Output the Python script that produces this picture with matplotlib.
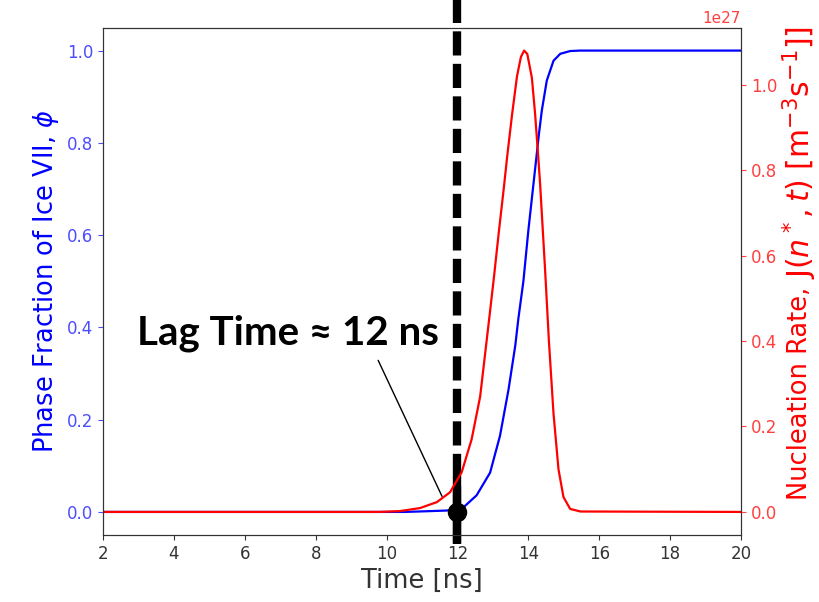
import numpy as np
import matplotlib
matplotlib.use('Agg')
import matplotlib.pyplot as plt


# Phase fraction of ice VII
time_phi = [2.0, 10.5, 10.94, 11.7, 12.17, 12.54, 12.92, 13.2, 13.44, 13.63, 13.72,
            13.86, 14.0, 14.1, 14.2, 14.3, 14.38, 14.52, 14.71, 14.9, 15.18,
            15.46, 20.0]
phi = [0.0, 0.0, 0.001, 0.003, 0.010, 0.036, 0.085, 0.165, 0.265, 0.360, 0.420,
       0.50, 0.61, 0.68, 0.75, 0.82, 0.87, 0.935, 0.978, 0.993, 0.999,
       1.0, 1.0]

# Nucleation rate J(n*, t) in units of 1e27 m^-3 s^-1
time_J = [2.0, 9.8, 10.38, 10.94, 11.42, 11.79, 12.12, 12.40, 12.64, 12.78,
          12.92, 13.03, 13.16, 13.31, 13.40, 13.54, 13.68, 13.79, 13.88, 13.97,
          14.10, 14.19, 14.26, 14.33, 14.47, 14.58, 14.71, 14.85, 14.99, 15.18,
          15.47, 20.0]
J = [0.0, 0.0, 0.002, 0.009, 0.023, 0.046, 0.093, 0.170, 0.270, 0.370,
     0.470, 0.550, 0.650, 0.760, 0.830, 0.930, 1.020, 1.065, 1.080, 1.072,
     1.016, 0.932, 0.853, 0.770, 0.570, 0.400, 0.230, 0.100, 0.035, 0.007,
     0.001, 0.0]

lag_time = 12.0

fig = plt.figure(figsize=(8.2, 6.02), dpi=100)
ax1 = fig.add_axes([0.1256, 0.1113, 0.7781, 0.843])
ax2 = ax1.twinx()

ax1.plot(time_phi, phi, color='b', lw=1.6)
ax2.plot(time_J, np.array(J) * 1e27, color='r', lw=1.6)

ax1.set_xlim(2, 20)
ax1.set_ylim(-0.05, 1.05)
ax2.set_ylim(-0.054e27, 1.134e27)
ax1.set_xticks(np.arange(2, 21, 2))

ax1.tick_params(axis='x', colors='#333333', labelsize=12)
ax1.tick_params(axis='y', colors='#4d4dff', labelsize=12)
ax2.tick_params(axis='y', colors='#ff4040', labelsize=12)
ax2.yaxis.get_offset_text().set_color('#ff4040')
ax2.yaxis.get_offset_text().set_fontsize(11)
for sp in ax1.spines.values():
    sp.set_color('#333333')
for sp in ax2.spines.values():
    sp.set_color('#333333')

ax1.set_xlabel('Time [ns]', fontsize=18.5, color='#333333')
ax1.set_ylabel(r'Phase Fraction of Ice VII, $\phi$', fontsize=18.5, color='b')

# right label in two pieces, the math part is drawn a bit larger
lab1 = fig.text(800 / 820, 1 - 500 / 602, 'Nucleation Rate, ', fontsize=18.5,
                color='r', rotation=90, ha='center', va='bottom')
fig.canvas.draw()
bb = lab1.get_window_extent()
fig.text(800 / 820, bb.y1 / fig.bbox.height, r'J$(n^*, t)$ [m$^{-3}$s$^{-1}$]]',
         fontsize=21.5, color='r', rotation=90, ha='center', va='bottom')

# lag time marker
ax1.axvline(lag_time, ymin=-0.015, ymax=1.06, color='k', lw=6,
            dashes=(2.9, 1.0), clip_on=False, zorder=5)
ax1.plot([lag_time, lag_time], [-0.07, 0.075], color='k', lw=6,
         clip_on=False, zorder=5, solid_capstyle='butt')
ax1.plot(lag_time, 0.0, 'o', color='k', ms=13, zorder=6, clip_on=False)

ax1.text(2.96, 0.362, 'Lag Time \u2248 12 ns', fontsize=29, fontweight='bold',
         family=['Lato', 'DejaVu Sans'], ha='left', va='baseline', zorder=7)
ax1.annotate('', xy=(11.6, 0.028), xytext=(9.73, 0.334),
             arrowprops=dict(arrowstyle='-', color='k', lw=1.0))

fig.savefig('out.png', dpi=100)
